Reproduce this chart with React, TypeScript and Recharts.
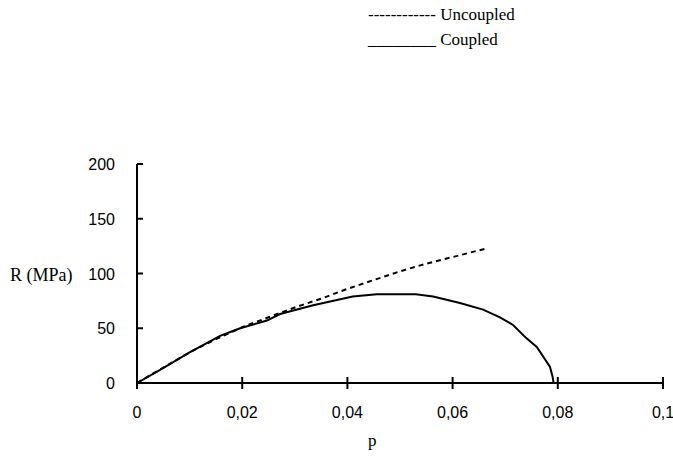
import React from "react";
import { LineChart, Line, XAxis, YAxis } from "recharts";

// p values (x) and R values (MPa)
const uncoupledP = [0, 0.005, 0.01, 0.015, 0.02, 0.025, 0.03, 0.035, 0.04, 0.045, 0.05, 0.055, 0.06, 0.0665];
const uncoupledR = [0, 14, 28, 40, 51, 60, 69, 77, 86, 94, 102, 109, 115, 123];

const coupledP = [
  0, 0.0044, 0.01, 0.0158, 0.0196, 0.0247, 0.0272, 0.0335, 0.041, 0.0456, 0.053, 0.0563, 0.0614,
  0.0658, 0.069, 0.0715, 0.074, 0.076, 0.0785, 0.079, 0.0792,
];
const coupledR = [0, 12, 28, 43, 50, 57, 63, 71, 79, 81, 81, 79, 73, 67, 60, 53, 41, 33, 15, 6, 0];

const xTicks = [0, 0.02, 0.04, 0.06, 0.08, 0.1];
const xTickLabels = ["0", "0,02", "0,04", "0,06", "0,08", "0,1"];
const yTicks = [0, 50, 100, 150, 200];

const uncoupled = uncoupledP.map((p, i) => ({ p, r: uncoupledR[i] }));
const coupled = coupledP.map((p, i) => ({ p, r: coupledR[i] }));

const sans = "Liberation Sans, Arial, sans-serif";
const serif = "'Liberation Serif', 'Times New Roman', serif";

const XTick = (props: any) => {
  const { x, y, payload } = props;
  const idx = xTicks.indexOf(payload.value);
  return (
    <g>
      <line x1={x} x2={x} y1={y - 6} y2={y + 6} stroke="#000" strokeWidth={2} />
      <text x={x} y={y + 35} textAnchor="middle" fill="#000" style={{ fontFamily: sans, fontSize: 16 }}>
        {idx >= 0 ? xTickLabels[idx] : payload.value}
      </text>
    </g>
  );
};

const YTick = (props: any) => {
  const { x, y, payload } = props;
  return (
    <g>
      <line x1={x} x2={x + 6} y1={y} y2={y} stroke="#000" strokeWidth={2} />
      <text x={x - 22} y={y + 6} textAnchor="end" fill="#000" style={{ fontFamily: sans, fontSize: 16 }}>
        {payload.value}
      </text>
    </g>
  );
};

const textBox = (left: number, top: number, size: number): React.CSSProperties => ({
  position: "absolute",
  left,
  top,
  fontFamily: serif,
  fontSize: size,
  lineHeight: "20px",
  color: "#000",
  whiteSpace: "pre",
});

const App = () => {
  return (
    <div style={{ position: "absolute", left: 0, top: 0, width: 673, height: 466, background: "#fff" }}>
      <LineChart width={673} height={466} margin={{ top: 164, right: 10, left: 0, bottom: 23 }}>
        <XAxis
          type="number"
          dataKey="p"
          domain={[0, 0.1]}
          ticks={xTicks}
          tick={<XTick />}
          tickLine={false}
          tickSize={0}
          tickMargin={0}
          height={60}
          axisLine={{ stroke: "#000", strokeWidth: 2 }}
          allowDuplicatedCategory={false}
        />
        <YAxis
          type="number"
          domain={[0, 200]}
          ticks={yTicks}
          tick={<YTick />}
          tickLine={false}
          tickSize={0}
          tickMargin={0}
          width={137}
          axisLine={{ stroke: "#000", strokeWidth: 2 }}
        />
        <Line
          data={uncoupled}
          dataKey="r"
          type="linear"
          stroke="#000"
          strokeWidth={2}
          strokeDasharray="5 4"
          dot={false}
          isAnimationActive={false}
        />
        <Line
          data={coupled}
          dataKey="r"
          type="linear"
          stroke="#000"
          strokeWidth={2}
          dot={false}
          isAnimationActive={false}
        />
      </LineChart>
      <div style={{ ...textBox(368, 2, 17), lineHeight: "25px" }}>
        <div>------------ Uncoupled</div>
        <div>________ Coupled</div>
      </div>
      <div style={textBox(10, 265, 18)}>R (MPa)</div>
      <div style={textBox(368, 431, 17)}>p</div>
    </div>
  );
};

export default App;
